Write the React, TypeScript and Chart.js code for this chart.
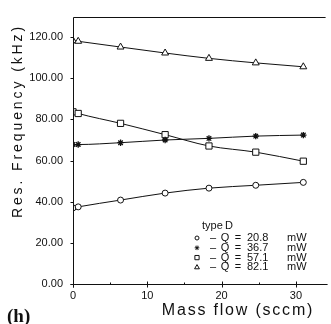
import React, { useEffect, useRef } from "react";
import { Chart, registerables } from "chart.js";
import { drawPoint } from "chart.js/helpers";

Chart.register(...registerables);

const massFlow = [0, 0.7, 6.4, 12.4, 18.3, 24.6, 31.0];
const q208 = [37.0, 37.5, 40.8, 44.2, 46.6, 48.0, 49.4];
const q367 = [67.8, 67.8, 68.7, 70.0, 70.8, 71.9, 72.4];
const q571 = [83.7, 82.9, 78.1, 72.6, 67.1, 64.1, 59.7];
const q821 = [118.3, 118.0, 115.2, 112.3, 109.7, 107.5, 105.6];

const seriesValues = [q208, q367, q571, q821];
const powers = ["20.8", "36.7", "57.1", "82.1"];
const pointStyles = ["circle", "star", "rect", "triangle"];
const pointRadii = [3, 3.2, 4.4, 4];
const legendRadii = [2, 2.3, 3, 2.8];

const yTicks = [0, 20, 40, 60, 80, 100, 120];
const xMajor = [0, 10, 20, 30];
const xMinor = [5, 15, 25];

const xTitle = "Mass flow (sccm)";
const yTitle = "Res. Frequency (kHz)";
const legendTitle = ["type", "D"];
const panelLabel = "(h)";

const FONT = '"Liberation Sans", Arial, sans-serif';
const INK = "#111";

const decor = {
  id: "decor",
  afterDraw(chart: any) {
    const { ctx, chartArea } = chart;
    const { left, top, right, bottom } = chartArea;
    const xs = chart.scales.x;
    const ys = chart.scales.y;
    const L = Math.round(left) + 0.5;
    const B = Math.round(bottom) + 0.5;
    ctx.save();
    ctx.strokeStyle = INK;
    ctx.lineWidth = 1;
    ctx.beginPath();
    ctx.moveTo(L, Math.round(top) + 0.5);
    ctx.lineTo(L, B + 3);
    ctx.moveTo(L, Math.round(top) + 0.5);
    ctx.lineTo(right, Math.round(top) + 0.5);
    ctx.moveTo(L - 3, B);
    ctx.lineTo(right + 2, B);
    yTicks.forEach((v) => {
      const py = Math.round(ys.getPixelForValue(v)) + 0.5;
      ctx.moveTo(L - 3, py);
      ctx.lineTo(L, py);
    });
    xMajor.forEach((v) => {
      const px = Math.round(xs.getPixelForValue(v)) + 0.5;
      ctx.moveTo(px, B - 3);
      ctx.lineTo(px, B + 3);
    });
    xMinor.forEach((v) => {
      const px = Math.round(xs.getPixelForValue(v)) + 0.5;
      ctx.moveTo(px, B - 2);
      ctx.lineTo(px, B);
    });
    ctx.stroke();

    ctx.fillStyle = INK;
    ctx.save();
    ctx.translate(18, 121);
    ctx.rotate(-Math.PI / 2);
    ctx.font = "14px " + FONT;
    (ctx as any).letterSpacing = "2.9px";
    ctx.textAlign = "center";
    ctx.textBaseline = "middle";
    ctx.fillText(yTitle, 0, 0);
    ctx.restore();

    ctx.save();
    ctx.font = "16px " + FONT;
    (ctx as any).letterSpacing = "1.8px";
    ctx.textAlign = "center";
    ctx.textBaseline = "middle";
    ctx.fillText(xTitle, 238, 311);
    ctx.restore();

    ctx.save();
    ctx.font = 'bold 19px "Liberation Serif", "Times New Roman", serif';
    ctx.textAlign = "left";
    ctx.textBaseline = "alphabetic";
    ctx.fillText(panelLabel, 7, 322);
    ctx.restore();

    ctx.save();
    ctx.font = "11px " + FONT;
    ctx.textBaseline = "middle";
    ctx.textAlign = "left";
    ctx.fillText(legendTitle[0], 202, 226);
    ctx.fillText(legendTitle[1], 225, 226);
    powers.forEach((p, i) => {
      const ly = 238 + i * 9.8;
      ctx.fillStyle = i === 1 ? INK : "#fff";
      ctx.strokeStyle = INK;
      ctx.lineWidth = 1;
      drawPoint(ctx, { pointStyle: pointStyles[i], radius: legendRadii[i], rotation: 0, borderWidth: 1 } as any, 197, ly);
      ctx.fillStyle = INK;
      ctx.textAlign = "center";
      ctx.fillText("–", 213, ly);
      ctx.fillText("Q", 225, ly);
      ctx.fillText("=", 238, ly);
      ctx.textAlign = "left";
      ctx.fillText(p, 247, ly);
      ctx.fillText("mW", 287, ly);
    });
    ctx.restore();

    ctx.restore();
  },
};

export default function App() {
  const ref = useRef<HTMLCanvasElement>(null);
  useEffect(() => {
    if (!ref.current) return;
    const chart = new Chart(ref.current, {
      type: "scatter",
      data: {
        datasets: seriesValues.map((vals, i) => ({
          label: "Q = " + powers[i] + " mW",
          data: vals.map((v, j) => ({ x: massFlow[j], y: v })),
          showLine: true,
          borderColor: INK,
          borderWidth: 1,
          backgroundColor: i === 1 ? INK : "#fff",
          pointStyle: pointStyles[i] as any,
          pointRadius: pointRadii[i],
          pointBorderWidth: i === 1 ? 1.3 : 1,
          pointBorderColor: INK,
          pointBackgroundColor: i === 1 ? INK : "#fff",
          cubicInterpolationMode: "monotone",
        })),
      },
      options: {
        animation: false,
        responsive: false,
        layout: { padding: { top: 12, right: 2, left: 0, bottom: 0 } },
        plugins: { legend: { display: false }, tooltip: { enabled: false } },
        scales: {
          x: {
            type: "linear",
            min: 0,
            max: 34,
            grid: { display: false, drawTicks: false },
            border: { display: false },
            ticks: {
              stepSize: 5,
              padding: 5,
              color: INK,
              font: { family: FONT, size: 11 },
              maxRotation: 0,
              autoSkip: false,
              callback: (v: any) => (xMajor.includes(Number(v)) ? String(v) : ""),
            },
            afterFit: (s: any) => {
              s.height = 40;
            },
          },
          y: {
            type: "linear",
            min: 0,
            max: 130,
            grid: { display: false, drawTicks: false },
            border: { display: false },
            ticks: {
              stepSize: 20,
              includeBounds: false,
              padding: 10,
              color: INK,
              font: { family: FONT, size: 11 },
              callback: (v: any) => Number(v).toFixed(2),
            },
            afterFit: (s: any) => {
              s.width = 73;
            },
          },
        },
      },
      plugins: [decor],
    });
    return () => chart.destroy();
  }, []);
  return (
    <div style={{ position: "fixed", left: 0, top: 0, width: 331, height: 324, background: "#fff" }}>
      <canvas ref={ref} width={331} height={324} />
    </div>
  );
}
